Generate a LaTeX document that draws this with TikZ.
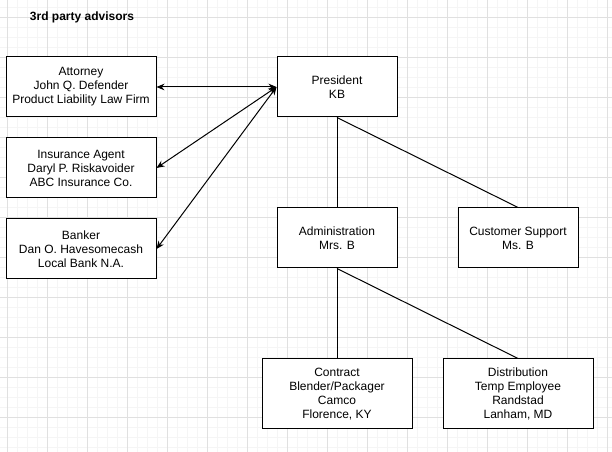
\documentclass[tikz,border=0pt]{standalone}
\usepackage{fontspec}
\setmainfont{Liberation Sans}
\usetikzlibrary{arrows.meta,positioning}

\begin{document}
\begin{tikzpicture}[
  x=0.75pt, y=-0.75pt,
  font=\fontsize{9pt}{10.5pt}\selectfont,
  box/.style={draw, line width=0.75pt, align=center, minimum width=112.5pt, minimum height=45pt, inner sep=0pt, fill=white},
  small/.style={box, minimum width=90pt},
  tall/.style={box, minimum height=52.5pt},
  minor/.style={draw=black!4, line width=0.5pt},
  major/.style={draw=black!12, line width=0.6pt},
  link/.style={line width=0.75pt},
  both/.style={link, {Stealth[length=6pt,width=5pt]}-{Stealth[length=6pt,width=5pt]}}
]
\useasboundingbox (0,0) rectangle (612,452);
\fill[white] (0,0) rectangle (612,452);

% grid
\foreach \x in {7,17,...,607} \draw[minor] (\x,0) -- (\x,452);
\foreach \y in {7,17,...,447} \draw[minor] (0,\y) -- (612,\y);
\foreach \x in {7,47,...,607} \draw[major] (\x,0) -- (\x,452);
\foreach \y in {17,57,...,417} \draw[major] (0,\y) -- (612,\y);

\node[font=\fontsize{9pt}{10.5pt}\selectfont\bfseries] (title) at (82,17) {3rd party advisors};

\node[small] (president) at (337,87) {President\\KB};
\node[box, left=90pt of president] (attorney) {Attorney\\John Q. Defender\\Product Liability Law Firm};
\node[box, below=15pt of attorney] (insurance) {Insurance Agent\\Daryl P. Riskavoider\\ABC Insurance Co.};
\node[box, below=15pt of insurance] (banker) {Banker\\Dan O. Havesomecash\\Local Bank N.A.};

\node[small, below=67.5pt of president] (admin) {Administration\\Mrs. B};
\node[small, right=45pt of admin] (support) {Customer Support\\Ms. B};

\node[box, tall, below=67.5pt of admin] (contract) {Contract\\Blender/Packager\\Camco\\Florence, KY};
\node[box, tall, right=22.5pt of contract] (distrib) {Distribution\\Temp Employee\\Randstad\\Lanham, MD};

\draw[both] (attorney.east) -- (president.west);
\draw[both] (insurance.east) -- (president.west);
\draw[both] (banker.east) -- (president.west);

\draw[link] (president.south) -- (admin.north);
\draw[link] (president.south) -- (support.north);
\draw[link] (admin.south) -- (contract.north);
\draw[link] (admin.south) -- (distrib.north);

\end{tikzpicture}
\end{document}
